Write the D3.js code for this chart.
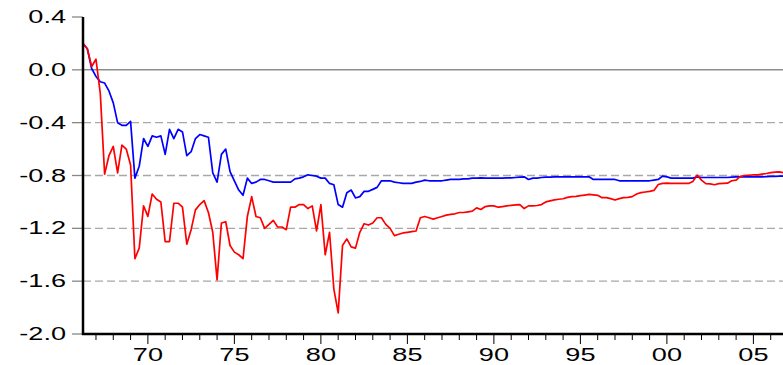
<!DOCTYPE html>
<html>
<head>
<meta charset="utf-8">
<script src="https://cdn.jsdelivr.net/npm/d3@7"></script>
<style>
  body { margin: 0; background: #fff; }
  svg { display: block; }
</style>
</head>
<body>
<div id="chart"></div>
<script>
// Quarterly series, 1966Q2 onwards
var startYear = 1966, startQuarter = 2;

var blueSeries = [
  0.20, 0.16, 0.01, -0.05, -0.09, -0.10, -0.16, -0.25, -0.40, -0.42,
  -0.42, -0.39, -0.82, -0.73, -0.52, -0.58, -0.50, -0.51, -0.50, -0.64,
  -0.45, -0.52, -0.45, -0.47, -0.65, -0.62, -0.52, -0.49, -0.50, -0.51,
  -0.78, -0.85, -0.64, -0.60, -0.77, -0.84, -0.91, -0.95, -0.82, -0.86,
  -0.85, -0.83, -0.83, -0.84, -0.85, -0.85, -0.85, -0.85, -0.85, -0.825,
  -0.82, -0.81, -0.795, -0.80, -0.805, -0.82, -0.82, -0.86, -0.87, -1.02,
  -1.04, -0.93, -0.91, -0.97, -0.96, -0.92, -0.92, -0.905, -0.89, -0.84,
  -0.84, -0.84, -0.85, -0.855, -0.86, -0.86, -0.86, -0.85, -0.845, -0.835,
  -0.84, -0.84, -0.84, -0.84, -0.835, -0.83, -0.83, -0.83, -0.825, -0.825,
  -0.82, -0.82, -0.818, -0.82, -0.82, -0.82, -0.82, -0.82, -0.818, -0.818,
  -0.815, -0.812, -0.81, -0.83, -0.82, -0.82, -0.815, -0.813, -0.812, -0.81,
  -0.81, -0.81, -0.81, -0.81, -0.81, -0.81, -0.81, -0.81, -0.83, -0.83,
  -0.83, -0.83, -0.83, -0.83, -0.84, -0.84, -0.84, -0.84, -0.84, -0.84,
  -0.84, -0.84, -0.835, -0.83, -0.805, -0.81, -0.82, -0.82, -0.82, -0.82,
  -0.82, -0.82, -0.81, -0.815, -0.815, -0.815, -0.815, -0.815, -0.815, -0.815,
  -0.812, -0.81, -0.81, -0.81, -0.81, -0.81, -0.81, -0.81, -0.808, -0.807,
  -0.806, -0.805, -0.805
];

var redSeries = [
  0.20, 0.16, 0.025, 0.08, -0.18, -0.79, -0.65, -0.58, -0.78, -0.57,
  -0.60, -0.72, -1.43, -1.35, -1.03, -1.11, -0.94, -0.98, -1.00, -1.30,
  -1.30, -1.01, -1.01, -1.04, -1.32, -1.21, -1.06, -1.02, -0.99, -1.08,
  -1.23, -1.59, -1.16, -1.15, -1.33, -1.38, -1.40, -1.43, -1.11, -0.96,
  -1.11, -1.12, -1.20, -1.17, -1.14, -1.19, -1.19, -1.21, -1.04, -1.04,
  -1.02, -1.02, -1.05, -1.03, -1.22, -1.02, -1.40, -1.23, -1.66, -1.84,
  -1.33, -1.28, -1.34, -1.35, -1.23, -1.165, -1.175, -1.16, -1.12, -1.12,
  -1.17, -1.20, -1.255, -1.245, -1.235, -1.23, -1.225, -1.22, -1.12, -1.11,
  -1.12, -1.13, -1.12, -1.11, -1.10, -1.095, -1.09, -1.08, -1.08, -1.075,
  -1.07, -1.045, -1.057, -1.035, -1.03, -1.03, -1.04, -1.035, -1.03, -1.026,
  -1.022, -1.02, -1.05, -1.03, -1.03, -1.027, -1.02, -1.00, -0.992, -0.985,
  -0.98, -0.976, -0.966, -0.96, -0.958, -0.953, -0.948, -0.943, -0.946, -0.95,
  -0.968, -0.968, -0.975, -0.986, -0.975, -0.968, -0.966, -0.96, -0.94, -0.93,
  -0.925, -0.92, -0.913, -0.868, -0.86, -0.858, -0.86, -0.86, -0.86, -0.86,
  -0.86, -0.845, -0.797, -0.835, -0.862, -0.864, -0.87, -0.862, -0.86, -0.858,
  -0.84, -0.835, -0.806, -0.80, -0.798, -0.796, -0.795, -0.79, -0.785, -0.778,
  -0.774, -0.772, -0.78
];

var yTicks = [0.4, 0.0, -0.4, -0.8, -1.2, -1.6, -2.0];
var gridLevels = [-0.4, -0.8, -1.2, -1.6];
var xLabelYears = [1970, 1975, 1980, 1985, 1990, 1995, 2000, 2005];

var width = 783, height = 365;
var margin = { top: 17, left: 83, bottom: 31 };
var plotBottom = height - margin.bottom;
var labelStretch = 1.55;

// period of each observation as a decimal year
var periods = blueSeries.map(function(d, i) {
  return startYear + (startQuarter - 1) / 4 + i / 4;
});

var svg = d3.select("#chart").append("svg")
    .attr("width", width)
    .attr("height", height);

var x = d3.scaleLinear()
    .domain([1966.25, 2007])
    .range([margin.left, 788]);

var y = d3.scaleLinear()
    .domain([-2.0, 0.4])
    .range([plotBottom, margin.top]);

// Grid lines
svg.append("g").selectAll("line")
    .data(gridLevels)
  .enter().append("line")
    .attr("x1", margin.left)
    .attr("x2", width)
    .attr("y1", function(d) { return y(d); })
    .attr("y2", function(d) { return y(d); })
    .style("stroke", "#a8a8a8")
    .style("stroke-width", 1.3)
    .style("stroke-dasharray", "8,4");

// zero line
svg.append("line")
    .attr("x1", margin.left)
    .attr("x2", width)
    .attr("y1", y(0))
    .attr("y2", y(0))
    .style("stroke", "#555")
    .style("stroke-width", 1);

// Y ticks and labels
svg.append("g").selectAll("line")
    .data(yTicks)
  .enter().append("line")
    .attr("x1", margin.left - 11)
    .attr("x2", margin.left)
    .attr("y1", function(d) { return y(d); })
    .attr("y2", function(d) { return y(d); })
    .style("stroke", "#888")
    .style("stroke-width", 1.3);

svg.append("g").selectAll("text")
    .data(yTicks)
  .enter().append("text")
    .attr("transform", function(d) {
      return "translate(66," + (y(d) + 6) + ") scale(" + labelStretch + ",1)";
    })
    .style("text-anchor", "end")
    .style("font", "17.5px 'Liberation Sans', Arial, sans-serif")
    .style("fill", "#000")
    .text(function(d) { return d3.format(".1f")(d).replace("−", "-"); });

// X ticks: minor every year, major every 5
var xAxis = svg.append("g");

xAxis.selectAll("line")
    .data(d3.range(1967, 2007))
  .enter().append("line")
    .attr("x1", function(d) { return x(d); })
    .attr("x2", function(d) { return x(d); })
    .attr("y1", plotBottom)
    .attr("y2", function(d) { return plotBottom + (d % 5 === 0 ? 10 : 6); })
    .style("stroke", "#000")
    .style("stroke-width", 1);

xAxis.selectAll("text")
    .data(xLabelYears)
  .enter().append("text")
    .attr("transform", function(d) {
      return "translate(" + x(d) + "," + 361 + ") scale(" + labelStretch + ",1)";
    })
    .style("text-anchor", "middle")
    .style("font", "17.5px 'Liberation Sans', Arial, sans-serif")
    .style("fill", "#000")
    .text(function(d) { return d3.format("02d")(d % 100); });

// Lines
var line = d3.line()
    .x(function(d, i) { return x(periods[i]); })
    .y(function(d) { return y(d); });

svg.append("path")
    .datum(blueSeries)
    .attr("d", line)
    .style("fill", "none")
    .style("stroke", "#0000ff")
    .style("stroke-width", 1.7)
    .style("stroke-linejoin", "round");

svg.append("path")
    .datum(redSeries)
    .attr("d", line)
    .style("fill", "none")
    .style("stroke", "#ff0000")
    .style("stroke-width", 1.7)
    .style("stroke-linejoin", "round");

// Axis frame
svg.append("line")
    .attr("x1", margin.left)
    .attr("x2", margin.left)
    .attr("y1", margin.top)
    .attr("y2", plotBottom + 1)
    .style("stroke", "#000")
    .style("stroke-width", 2.5);

svg.append("line")
    .attr("x1", margin.left - 1)
    .attr("x2", width)
    .attr("y1", plotBottom)
    .attr("y2", plotBottom)
    .style("stroke", "#000")
    .style("stroke-width", 2.5);
</script>
</body>
</html>
